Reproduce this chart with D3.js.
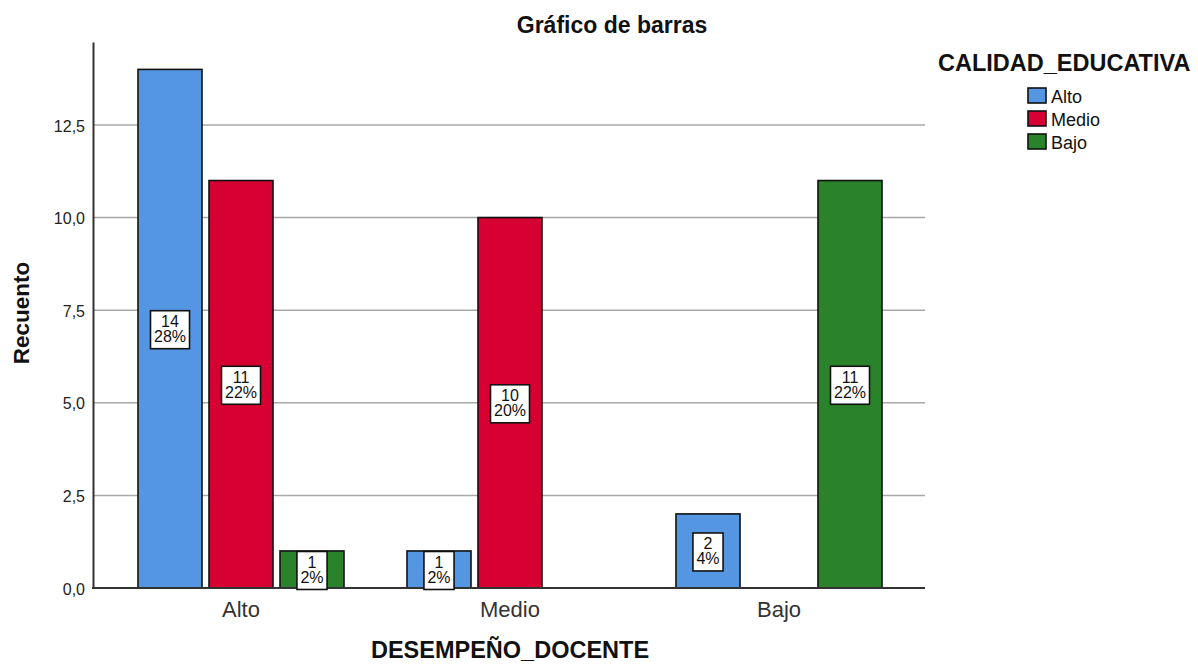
<!DOCTYPE html>
<html><head><meta charset="utf-8">
<script src="https://cdn.jsdelivr.net/npm/d3@7"></script>
<style>body{margin:0;background:#fff;}svg{display:block;font-family:"Liberation Sans",Arial,sans-serif;}</style>
</head><body><svg id="c" width="1198" height="664"></svg>
<script>
const categories = ["Alto", "Medio", "Bajo"];
const series = ["Alto", "Medio", "Bajo"];
const valuesAlto = [14, 1, 2];
const valuesMedio = [11, 10, 0];
const valuesBajo = [1, 0, 11];
const total = 50;
const yTicks = [0, 2.5, 5, 7.5, 10, 12.5];
const colors = ["#5596e3", "#d60032", "#2a832a"];
const seriesValues = [valuesAlto, valuesMedio, valuesBajo];

const svg = d3.select("#c");
const y = d3.scaleLinear().domain([0, 14.74]).range([588, 42]);
const x0 = d3.scaleBand().domain(categories).range([106.5, 913.5]);
const x1 = d3.scaleBand().domain(series).range([31.5, 237.5]).paddingInner(7/71);
const fmt = v => d3.format(".1f")(v).replace(".", ",");

// gridlines
svg.append("g").selectAll("line").data(yTicks.filter(t => t > 0)).join("line")
  .attr("x1", 93).attr("x2", 925).attr("y1", d => y(d)).attr("y2", d => y(d))
  .attr("stroke", "#a8a8a8").attr("stroke-width", 1.5);

// y axis
const yAxis = d3.axisLeft(y).tickValues(yTicks).tickFormat(fmt).tickSize(0).tickPadding(8);
const gy = svg.append("g").attr("transform", "translate(93,0)").call(yAxis);
gy.select(".domain").attr("stroke", "#333").attr("stroke-width", 2);
gy.selectAll("text").attr("font-size", 16).attr("fill", "#222")
  .attr("font-family", "Liberation Sans, Arial").attr("dy", "0.38em");

// bars
const data = [];
categories.forEach((c, i) => series.forEach((s, j) => {
  data.push({cat: c, ser: s, v: seriesValues[j][i], j});
}));
const bars = data.filter(d => d.v > 0);
svg.append("g").selectAll("rect").data(bars).join("rect")
  .attr("x", d => x0(d.cat) + x1(d.ser))
  .attr("y", d => y(d.v))
  .attr("width", x1.bandwidth())
  .attr("height", d => y(0) - y(d.v))
  .attr("fill", d => colors[d.j])
  .attr("stroke", "#111").attr("stroke-width", 1.6);

// x axis
const xAxis = d3.axisBottom(x0).tickSize(0).tickPadding(13);
const gx = svg.append("g").attr("transform", "translate(0,588)").call(xAxis);
gx.select(".domain").remove();
svg.append("line").attr("x1", 92).attr("x2", 925).attr("y1", 588).attr("y2", 588)
  .attr("stroke", "#333").attr("stroke-width", 2);
gx.selectAll("text").attr("font-size", 22).attr("fill", "#333")
  .attr("font-family", "Liberation Sans, Arial");

// labels
const lg = svg.append("g").selectAll("g").data(bars).join("g")
  .attr("transform", d => `translate(${x0(d.cat) + x1(d.ser) + x1.bandwidth()/2},${(y(d.v) + y(0))/2 + 1})`);
lg.each(function(d) {
  const g = d3.select(this);
  const pct = Math.round(d.v / total * 100) + "%";
  const t1 = g.append("text").attr("text-anchor", "middle").attr("y", -2.5).attr("font-size", 16)
    .attr("fill", "#111").text(d.v);
  const t2 = g.append("text").attr("text-anchor", "middle").attr("y", 12.5).attr("font-size", 16)
    .attr("fill", "#111").text(pct);
  const w = Math.max(t1.node().getComputedTextLength(), t2.node().getComputedTextLength()) + 7;
  g.insert("rect", "text").attr("x", -w/2).attr("y", -19).attr("width", w).attr("height", 38)
    .attr("fill", "#fff").attr("stroke", "#111").attr("stroke-width", 1.6);
});

// titles
svg.append("text").attr("x", 612).attr("y", 33).attr("text-anchor", "middle")
  .attr("font-size", 23).attr("font-weight", "bold").attr("fill", "#111").text("Gráfico de barras");
svg.append("text").attr("transform", "translate(29,313) rotate(-90)").attr("text-anchor", "middle")
  .attr("font-size", 22.5).attr("font-weight", "bold").attr("fill", "#111").text("Recuento");
svg.append("text").attr("x", 510).attr("y", 658).attr("text-anchor", "middle")
  .attr("font-size", 23.5).attr("font-weight", "bold").attr("fill", "#111").text("DESEMPEÑO_DOCENTE");

// legend
svg.append("text").attr("x", 938).attr("y", 71).attr("font-size", 23.5).attr("font-weight", "bold")
  .attr("fill", "#111").text("CALIDAD_EDUCATIVA");
const leg = svg.append("g").selectAll("g").data(series).join("g")
  .attr("transform", (d, i) => `translate(1028,${88 + i * 23})`);
leg.append("rect").attr("width", 18).attr("height", 15).attr("fill", (d, i) => colors[i])
  .attr("stroke", "#111").attr("stroke-width", 1.6);
leg.append("text").attr("x", 23).attr("y", 15).attr("font-size", 18)
  .attr("fill", "#111").text(d => d);
</script></body></html>
